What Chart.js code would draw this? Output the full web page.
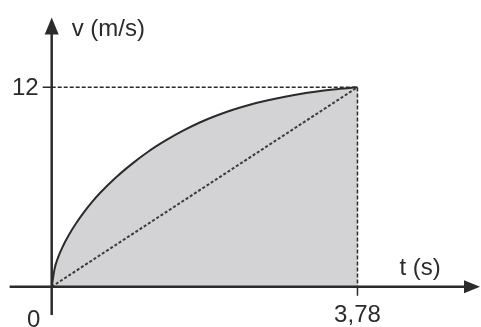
<!DOCTYPE html>
<html>
<head>
<meta charset="utf-8">
<script src="https://cdn.jsdelivr.net/npm/chart.js@4"></script>
<style>
    html, body { margin: 0; padding: 0; background: #fff; }
    #wrap { width: 481px; height: 327px; }
</style>
</head>
<body>
<div id="wrap"><canvas id="chart"></canvas></div>
<script>
// Curve v(t)
const timeValues = [0, 0.037, 0.078, 0.14, 0.205, 0.3, 0.39, 0.5, 0.6, 0.8, 1.0, 1.2, 1.42, 1.63, 1.83, 2.04, 2.25, 2.45, 2.66, 3.07, 3.48, 3.78];
const speedValues = [0, 1.1, 1.75, 2.45, 3.05, 3.8, 4.43, 5.1, 5.65, 6.6, 7.42, 8.15, 8.83, 9.4, 9.88, 10.3, 10.66, 10.95, 11.2, 11.6, 11.87, 12];

// End point and axis labels
const endTime = 3.78;
const endSpeed = 12;
const xTickLabel = '3,78';
const yTickLabel = '12';
const originLabel = '0';
const xAxisTitle = 't (s)';
const yAxisTitle = 'v (m/s)';

const ink = '#2b2b2b';
const font = '24px "Liberation Sans", Arial, sans-serif';

// Axes, arrows, ticks and labels drawn from the scales
const axesPlugin = {
    id: 'axesPlugin',
    afterDatasetsDraw(chart) {
        const ctx = chart.ctx;
        const x = chart.scales.x;
        const y = chart.scales.y;
        const x0 = x.getPixelForValue(0);
        const y0 = y.getPixelForValue(0);
        const xEnd = x.getPixelForValue(endTime);
        const yEnd = y.getPixelForValue(endSpeed);

        ctx.save();
        ctx.strokeStyle = ink;
        ctx.fillStyle = ink;
        ctx.lineWidth = 2.5;

        // x axis
        ctx.beginPath();
        ctx.moveTo(x.getPixelForValue(-0.52), y0);
        ctx.lineTo(x.getPixelForValue(5.1), y0);
        ctx.stroke();
        const xTip = x.getPixelForValue(5.295);
        ctx.beginPath();
        ctx.moveTo(xTip, y0);
        ctx.lineTo(xTip - 16, y0 - 6.5);
        ctx.lineTo(xTip - 16, y0 + 6.5);
        ctx.closePath();
        ctx.fill();

        // y axis
        ctx.beginPath();
        ctx.moveTo(x0, y.getPixelForValue(-1.7));
        ctx.lineTo(x0, y.getPixelForValue(15.5));
        ctx.stroke();
        const yTip = y.getPixelForValue(16.2);
        ctx.beginPath();
        ctx.moveTo(x0, yTip);
        ctx.lineTo(x0 - 7, yTip + 17);
        ctx.lineTo(x0 + 7, yTip + 17);
        ctx.closePath();
        ctx.fill();

        // ticks
        ctx.lineWidth = 1.5;
        ctx.beginPath();
        ctx.moveTo(x0 - 9, yEnd);
        ctx.lineTo(x0, yEnd);
        ctx.moveTo(xEnd, y0);
        ctx.lineTo(xEnd, y0 + 9);
        ctx.stroke();

        // labels
        ctx.font = font;
        ctx.textBaseline = 'alphabetic';
        ctx.textAlign = 'right';
        ctx.fillText(yTickLabel, x0 - 13, yEnd + 8);
        ctx.textAlign = 'center';
        ctx.fillText(originLabel, x0 - 18, y0 + 40);
        ctx.fillText(xTickLabel, xEnd, y0 + 35);
        ctx.textAlign = 'left';
        ctx.fillText(yAxisTitle, x0 + 20, y0 - 251);
        ctx.fillText(xAxisTitle, x.getPixelForValue(4.3), y0 - 12);
        ctx.restore();
    }
};

const ctx = document.getElementById('chart').getContext('2d');
new Chart(ctx, {
    type: 'scatter',
    data: {
        datasets: [
            {
                // shaded area under the curve
                data: timeValues.map((t, i) => ({ x: t, y: speedValues[i] })),
                showLine: true,
                borderColor: ink,
                borderWidth: 2,
                backgroundColor: '#d3d3d5',
                fill: 'origin',
                cubicInterpolationMode: 'monotone',
                pointRadius: 0,
                order: 2
            },
            {
                // diagonal
                data: [{ x: 0, y: 0 }, { x: endTime, y: endSpeed }],
                showLine: true,
                borderColor: '#3a3a3a',
                borderWidth: 2,
                borderDash: [3, 2],
                pointRadius: 0,
                fill: false,
                order: 1
            },
            {
                // guide lines to the end point
                data: [{ x: 0, y: endSpeed }, { x: endTime, y: endSpeed }, { x: endTime, y: 0 }],
                showLine: true,
                borderColor: '#2b2b2b',
                borderWidth: 1.5,
                borderDash: [4, 2],
                pointRadius: 0,
                fill: false,
                order: 0
            }
        ]
    },
    options: {
        responsive: true,
        maintainAspectRatio: false,
        animation: false,
        layout: { padding: 0 },
        plugins: {
            legend: { display: false },
            tooltip: { enabled: false }
        },
        scales: {
            x: { type: 'linear', min: -0.639, max: 5.307, display: false },
            y: { type: 'linear', min: -2.425, max: 17.25, display: false }
        }
    },
    plugins: [axesPlugin]
});
</script>
</body>
</html>
